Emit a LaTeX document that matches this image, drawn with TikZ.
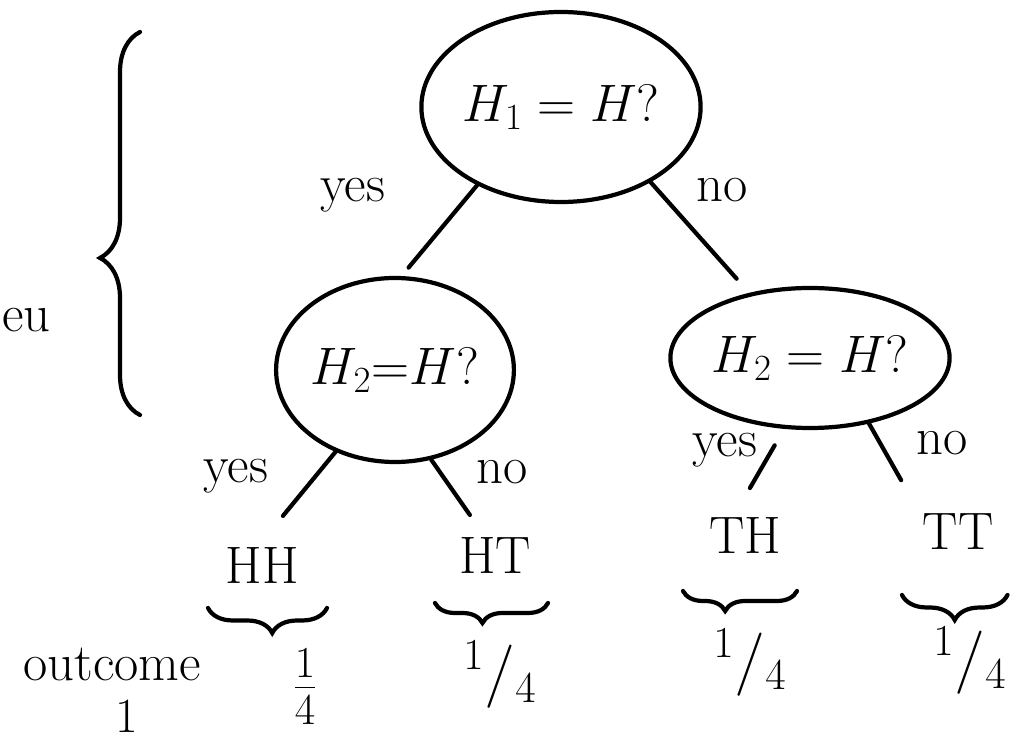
\RequirePackage{fix-cm}
\documentclass[tikz,border=0pt]{standalone}
\usepackage{tikz}
\usetikzlibrary{shapes,decorations.pathreplacing}
\tikzstyle{question} = [draw, ellipse, inner sep=0pt]
\tikzstyle{leaf} = [inner sep=2pt]
\tikzstyle{answer} = [inner sep=1pt]
\tikzstyle{prob} = [inner sep=0pt, font=\fontsize{36}{40}\selectfont]
\tikzstyle{curly} = [decorate, decoration={brace, amplitude=0.45cm}]

\begin{document}
\begin{tikzpicture}[line width=2.4pt, line cap=round,
    every node/.style={font=\fontsize{30}{34}\selectfont}]
    \useasboundingbox (0,0) rectangle (20.22,-14.76);

    % Questions
    \node [question, minimum width=5.2cm, minimum height=3.8cm] (q1) at (11.22,-2.14) {$H_1 = H?$};
    \node [question, minimum width=4.52cm, minimum height=3.68cm] (q2l) at (7.9,-7.4) {$H_2{=}H?$};
    \node [question, minimum width=4.72cm, minimum height=2.8cm] (q2r) at (16.2,-7.16) {$H_2 = H?$};

    % Outcomes
    \node [leaf] (HH) at (5.24,-11.3) {HH};
    \node [leaf] (HT) at (9.9,-11.1) {HT};
    \node [leaf] (TH) at (14.9,-10.7) {TH};
    \node [leaf] (TT) at (19.16,-10.64) {TT};

    % Branches
    \draw [shorten >=0.22cm] (q1.223) -- (q2l.86);
    \draw [shorten >=0.38cm] (q1.320) -- (q2r.133);
    \draw [shorten >=0.66cm] (q2l.234) -- (HH.north);
    \draw [shorten >=0.4cm] (q2l.292) -- (HT.120);
    \draw [shorten <=0.38cm, shorten >=0.54cm] (q2r.250) -- (TH.110);
    \draw [shorten >=0.65cm] (q2r.312.6) -- (TT.north west);

    % Answers
    \node [answer] (y1) at (7.06,-3.9) {yes};
    \node [answer] (n1) at (14.44,-3.8) {no};
    \node [answer] (y2) at (4.72,-9.52) {yes};
    \node [answer] (n2) at (10.04,-9.44) {no};
    \node [answer] (y3) at (14.5,-9.0) {yes};
    \node [answer] (n3) at (18.84,-8.86) {no};

    % Braces and probabilities
    \draw [curly, decoration={amplitude=0.8cm, aspect=0.41}] (2.8,-8.3) -- (2.8,-0.64);
    \draw [curly, decoration={amplitude=0.5cm, aspect=0.46}] (6.54,-12.16) -- (4.16,-12.16);
    \draw [curly, decoration={amplitude=0.4cm, aspect=0.58}] (10.96,-12.06) -- (8.7,-12.06);
    \draw [curly, decoration={amplitude=0.4cm, aspect=0.63}] (15.94,-11.82) -- (13.66,-11.82);
    \draw [curly, decoration={amplitude=0.5cm, aspect=0.5}] (20.15,-11.9) -- (18.04,-11.9);
    \node [prob] (pHH) at (6.1,-13.74) {$\frac{1}{4}$};
    \node [prob] (pHT) at (10.0,-13.5) {${}^1/{}_4$};
    \node [prob] (pTH) at (15.0,-13.25) {${}^1/{}_4$};
    \node [prob] (pTT) at (19.4,-13.22) {${}^1/{}_4$};

    % Side texts
    \node [anchor=west, inner sep=0pt] (cut) at (0,-6.4) {eu};
    \node [inner sep=0pt] (outc) at (2.24,-13.3) {outcome};
    \node [inner sep=0pt, font=\fontsize{28}{32}\selectfont] (one) at (2.54,-14.32) {1};
\end{tikzpicture}
\end{document}
